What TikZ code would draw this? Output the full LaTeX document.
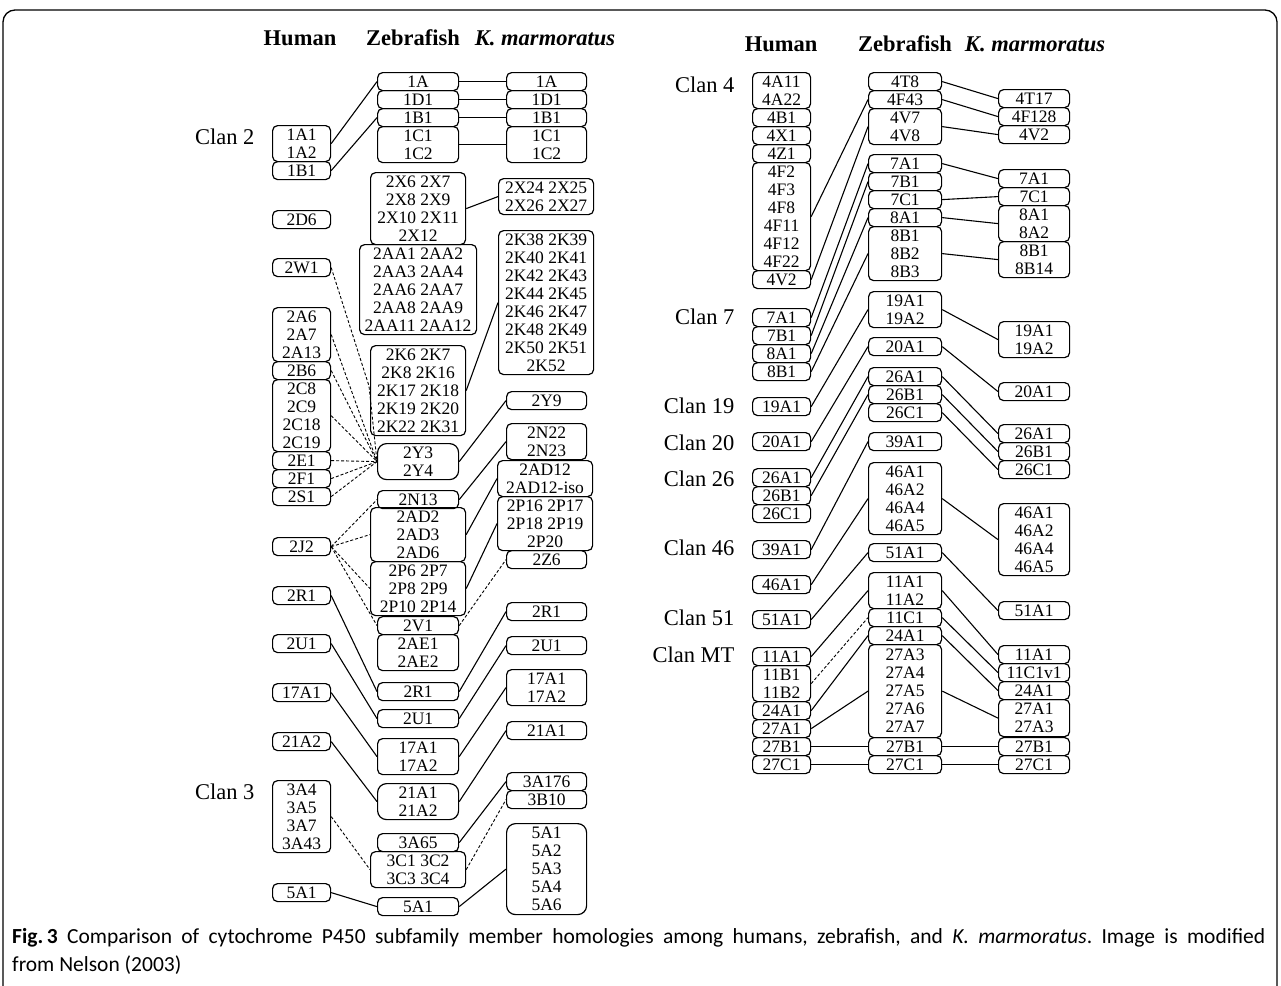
\documentclass[tikz,border=0pt]{standalone}
\usepackage{fontspec}
\setmainfont{Liberation Serif}
\newfontfamily\capfont{Carlito}
\tikzset{
 cbox/.style={draw, line width=1.2pt, rounded corners=5pt, inner sep=0pt, align=center,
   font=\fontsize{17.5}{18}\selectfont, anchor=north west},
 link/.style={line width=1.1pt},
 dlink/.style={line width=0.9pt, dash pattern=on 3pt off 2pt},
 clan/.style={font=\fontsize{22.5}{24}\selectfont, anchor=east},
 head/.style={font=\bfseries\fontsize{22.5}{24}\selectfont, anchor=base},
 capt/.style={font=\capfont\fontsize{21.5}{24}\selectfont, anchor=base west, inner sep=0pt},
 frame/.style={line width=1.3pt, rounded corners=12pt},
}
\newcommand\bx[6]{\node[cbox, minimum width=#4pt, minimum height=#5pt] (#1) at (#2,#3) {#6};}
\newcommand\lk[2]{\draw[link] (#1.east) -- (#2.west);}
\newcommand\dk[2]{\draw[dlink] (#1.east) -- (#2.west);}
\begin{document}
\begin{tikzpicture}[x=1pt,y=-1pt]
\useasboundingbox (0,0) rectangle (1281,985);
\draw[frame] (3,995) -- (3,10) -- (1277,10) -- (1277,995);

% ---------- headings ----------
\node[head] (hlH) at (300,45) {Human};
\node[head] (hlZ) at (413,45) {Zebrafish};
\node[head] (hlK) at (545,45) {\textit{K. marmoratus}};
\node[head] (hrH) at (781,51) {Human};
\node[head] (hrZ) at (905,51) {Zebrafish};
\node[head] (hrK) at (1035,51) {\textit{K. marmoratus}};

% ---------- clan labels ----------
\node[clan] (c2) at (258,137) {Clan 2};
\node[clan] (c3) at (258,792) {Clan 3};
\node[clan] (c4) at (738,85) {Clan 4};
\node[clan] (c7) at (738,317) {Clan 7};
\node[clan] (c19) at (738,406) {Clan 19};
\node[clan] (c20) at (738,443) {Clan 20};
\node[clan] (c26) at (738,479) {Clan 26};
\node[clan] (c46) at (738,548) {Clan 46};
\node[clan] (c51) at (738,618) {Clan 51};
\node[clan] (cMT) at (738,655) {Clan MT};

% ---------- left: human ----------
\bx{h1A}{272}{125}{58}{36}{1A1\\1A2}
\bx{h1B}{272}{161}{58}{18}{1B1}
\bx{h2D6}{272}{210}{58}{18}{2D6}
\bx{h2W1}{272}{258}{58}{18}{2W1}
\bx{h2A}{272}{307}{58}{54}{2A6\\2A7\\2A13}
\bx{h2B6}{272}{361}{58}{18}{2B6}
\bx{h2C}{272}{379}{58}{72}{2C8\\2C9\\2C18\\2C19}
\bx{h2E1}{272}{451}{58}{18}{2E1}
\bx{h2F1}{272}{469}{58}{18}{2F1}
\bx{h2S1}{272}{487}{58}{18}{2S1}
\bx{h2J2}{272}{537}{58}{18}{2J2}
\bx{h2R1}{272}{586}{58}{18}{2R1}
\bx{h2U1}{272}{634}{58}{18}{2U1}
\bx{h17A1}{272}{683}{58}{18}{17A1}
\bx{h21A2}{272}{732}{58}{18}{21A2}
\bx{h3A}{272}{780}{58}{72}{3A4\\3A5\\3A7\\3A43}
\bx{h5A1}{272}{883}{58}{18}{5A1}

% ---------- left: zebrafish ----------
\bx{z1A}{377}{72}{81}{18}{1A}
\bx{z1D1}{377}{90}{81}{18}{1D1}
\bx{z1B1}{377}{108}{81}{18}{1B1}
\bx{z1C}{377}{126}{81}{36}{1C1\\1C2}
\bx{z2X}{370}{172}{95}{72}{2X6 2X7\\2X8 2X9\\2X10 2X11\\2X12}
\bx{z2AA}{359}{244}{117}{90}{2AA1 2AA2\\2AA3 2AA4\\2AA6 2AA7\\2AA8 2AA9\\2AA11 2AA12}
\bx{z2K}{370}{345}{95}{90}{2K6 2K7\\2K8 2K16\\2K17 2K18\\2K19 2K20\\2K22 2K31}
\node[cbox, rounded corners=9pt, minimum width=81pt, minimum height=36pt] (z2Y) at (377,443) {2Y3\\2Y4};
\bx{z2N13}{377}{490}{81}{18}{2N13}
\bx{z2AD}{370}{507}{95}{54}{2AD2\\2AD3\\2AD6}
\bx{z2P}{370}{561}{95}{54}{2P6 2P7\\2P8 2P9\\2P10 2P14}
\bx{z2V1}{377}{616}{81}{18}{2V1}
\bx{z2AE}{377}{634}{81}{36}{2AE1\\2AE2}
\bx{z2R1}{377}{682}{81}{18}{2R1}
\bx{z2U1}{377}{709}{81}{18}{2U1}
\bx{z17A}{377}{738}{81}{36}{17A1\\17A2}
\node[cbox, rounded corners=9pt, minimum width=81pt, minimum height=36pt] (z21A) at (377,783) {21A1\\21A2};
\bx{z3A65}{377}{833}{81}{18}{3A65}
\bx{z3C}{370}{851}{95}{36}{3C1 3C2\\3C3 3C4}
\bx{z5A1}{377}{897}{81}{18}{5A1}

% ---------- left: K. marmoratus ----------
\bx{k1A}{506}{72}{80}{18}{1A}
\bx{k1D1}{506}{90}{80}{18}{1D1}
\bx{k1B1}{506}{108}{80}{18}{1B1}
\bx{k1C}{506}{126}{80}{36}{1C1\\1C2}
\bx{k2X}{498}{178}{95}{36}{2X24 2X25\\2X26 2X27}
\bx{k2K}{498}{230}{95}{144}{2K38 2K39\\2K40 2K41\\2K42 2K43\\2K44 2K45\\2K46 2K47\\2K48 2K49\\2K50 2K51\\2K52}
\bx{k2Y9}{506}{391}{80}{18}{2Y9}
\bx{k2N}{506}{423}{80}{36}{2N22\\2N23}
\bx{k2AD}{497}{460}{95}{36}{2AD12\\2AD12-iso}
\bx{k2P}{497}{496}{95}{54}{2P16 2P17\\2P18 2P19\\2P20}
\bx{k2Z6}{506}{550}{80}{18}{2Z6}
\bx{k2R1}{506}{602}{80}{18}{2R1}
\bx{k2U1}{506}{636}{80}{18}{2U1}
\bx{k17A}{506}{669}{80}{36}{17A1\\17A2}
\bx{k21A1}{506}{721}{80}{18}{21A1}
\bx{k3A176}{506}{772}{80}{18}{3A176}
\bx{k3B10}{506}{790}{80}{18}{3B10}
\node[cbox, rounded corners=9pt, minimum width=80pt, minimum height=91pt] (k5A) at (506,823) {5A1\\5A2\\5A3\\5A4\\5A6};

% ---------- right: human ----------
\bx{H4A}{752}{72}{58}{36}{4A11\\4A22}
\bx{H4B1}{752}{108}{58}{18}{4B1}
\bx{H4X1}{752}{126}{58}{18}{4X1}
\bx{H4Z1}{752}{144}{58}{18}{4Z1}
\bx{H4F}{752}{162}{58}{108}{4F2\\4F3\\4F8\\4F11\\4F12\\4F22}
\bx{H4V2}{752}{270}{58}{18}{4V2}
\bx{H7A1}{752}{308}{58}{18}{7A1}
\bx{H7B1}{752}{326}{58}{18}{7B1}
\bx{H8A1}{752}{344}{58}{18}{8A1}
\bx{H8B1}{752}{362}{58}{18}{8B1}
\bx{H19A1}{752}{397}{58}{18}{19A1}
\bx{H20A1}{752}{432}{58}{18}{20A1}
\bx{H26A1}{752}{468}{58}{18}{26A1}
\bx{H26B1}{752}{486}{58}{18}{26B1}
\bx{H26C1}{752}{504}{58}{18}{26C1}
\bx{H39A1}{752}{540}{58}{18}{39A1}
\bx{H46A1}{752}{575}{58}{18}{46A1}
\bx{H51A1}{752}{610}{58}{18}{51A1}
\bx{H11A1}{752}{647}{58}{18}{11A1}
\bx{H11B}{752}{665}{58}{36}{11B1\\11B2}
\bx{H24A1}{752}{701}{58}{18}{24A1}
\bx{H27A1}{752}{719}{58}{18}{27A1}
\bx{H27B1}{752}{737}{58}{18}{27B1}
\bx{H27C1}{752}{755}{58}{18}{27C1}

% ---------- right: zebrafish ----------
\bx{Z4T8}{868}{72}{73}{18}{4T8}
\bx{Z4F43}{868}{90}{73}{18}{4F43}
\bx{Z4V}{868}{108}{73}{36}{4V7\\4V8}
\bx{Z7A1}{868}{154}{73}{18}{7A1}
\bx{Z7B1}{868}{172}{73}{18}{7B1}
\bx{Z7C1}{868}{190}{73}{18}{7C1}
\bx{Z8A1}{868}{208}{73}{18}{8A1}
\bx{Z8B}{868}{226}{73}{54}{8B1\\8B2\\8B3}
\bx{Z19A}{868}{291}{73}{36}{19A1\\19A2}
\bx{Z20A1}{868}{337}{73}{18}{20A1}
\bx{Z26A1}{868}{367}{73}{18}{26A1}
\bx{Z26B1}{868}{385}{73}{18}{26B1}
\bx{Z26C1}{868}{403}{73}{18}{26C1}
\bx{Z39A1}{868}{432}{73}{18}{39A1}
\bx{Z46A}{868}{462}{73}{72}{46A1\\46A2\\46A4\\46A5}
\bx{Z51A1}{868}{543}{73}{18}{51A1}
\bx{Z11A}{868}{572}{73}{36}{11A1\\11A2}
\bx{Z11C1}{868}{608}{73}{18}{11C1}
\bx{Z24A1}{868}{626}{73}{18}{24A1}
\bx{Z27A}{868}{644}{73}{93}{27A3\\27A4\\27A5\\27A6\\27A7}
\bx{Z27B1}{868}{737}{73}{18}{27B1}
\bx{Z27C1}{868}{755}{73}{18}{27C1}

% ---------- right: K. marmoratus ----------
\bx{K4T17}{998}{89}{71}{18}{4T17}
\bx{K4F128}{998}{107}{71}{18}{4F128}
\bx{K4V2}{998}{125}{71}{18}{4V2}
\bx{K7A1}{998}{169}{71}{18}{7A1}
\bx{K7C1}{998}{187}{71}{18}{7C1}
\bx{K8A}{998}{205}{71}{36}{8A1\\8A2}
\bx{K8B}{998}{241}{71}{36}{8B1\\8B14}
\bx{K19A}{998}{321}{71}{36}{19A1\\19A2}
\bx{K20A1}{998}{382}{71}{18}{20A1}
\bx{K26A1}{998}{424}{71}{18}{26A1}
\bx{K26B1}{998}{442}{71}{18}{26B1}
\bx{K26C1}{998}{460}{71}{18}{26C1}
\bx{K46A}{998}{503}{71}{72}{46A1\\46A2\\46A4\\46A5}
\bx{K51A1}{998}{601}{71}{18}{51A1}
\bx{K11A1}{998}{645}{71}{18}{11A1}
\bx{K11C1v1}{998}{663}{71}{18}{11C1v1}
\bx{K24A1}{998}{681}{71}{18}{24A1}
\bx{K27A}{998}{699}{71}{37}{27A1\\27A3}
\bx{K27B1}{998}{737}{71}{18}{27B1}
\bx{K27C1}{998}{755}{71}{18}{27C1}

% ---------- left connectors ----------
\lk{h1A}{z1A} \lk{h1B}{z1B1}
\lk{z1A}{k1A} \lk{z1D1}{k1D1} \lk{z1B1}{k1B1} \lk{z1C}{k1C}
\lk{z2X}{k2X} \lk{z2K}{k2K}
\coordinate (wbend) at (369,386);
\draw[dlink] (h2W1.east) -- (wbend) -- (z2Y.west);
\dk{h2A}{z2Y} \dk{h2B6}{z2Y} \dk{h2C}{z2Y} \dk{h2E1}{z2Y} \dk{h2F1}{z2Y} \dk{h2S1}{z2Y}
\lk{z2Y}{k2Y9} \lk{z2N13}{k2N} \lk{z2AD}{k2AD} \lk{z2P}{k2P} \dk{z2V1}{k2Z6}
\dk{h2J2}{z2N13} \dk{h2J2}{z2AD} \dk{h2J2}{z2P} \dk{h2J2}{z2V1}
\lk{h2R1}{z2R1} \lk{z2R1}{k2R1} \lk{h2U1}{z2U1} \lk{z2U1}{k2U1}
\lk{h17A1}{z17A} \lk{z17A}{k17A} \lk{h21A2}{z21A} \lk{z21A}{k21A1}
\dk{h3A}{z3C} \lk{z3A65}{k3A176} \dk{z3C}{k3B10}
\lk{h5A1}{z5A1} \lk{z5A1}{k5A}

% ---------- right connectors ----------
\lk{H4F}{Z4F43} \lk{H4V2}{Z4V}
\lk{Z4T8}{K4T17} \lk{Z4F43}{K4F128} \lk{Z4V}{K4V2}
\lk{H7A1}{Z7A1} \lk{H7B1}{Z7B1} \lk{H8A1}{Z8A1} \lk{H8B1}{Z8B}
\lk{Z7A1}{K7A1} \lk{Z7C1}{K7C1} \lk{Z8A1}{K8A} \lk{Z8B}{K8B}
\lk{H19A1}{Z19A} \lk{Z19A}{K19A}
\lk{H20A1}{Z20A1} \lk{Z20A1}{K20A1}
\lk{H26A1}{Z26A1} \lk{H26B1}{Z26B1}
\lk{Z26A1}{K26A1} \lk{Z26B1}{K26B1} \lk{Z26C1}{K26C1}
\lk{H39A1}{Z39A1}
\lk{H46A1}{Z46A} \lk{Z46A}{K46A}
\lk{H51A1}{Z51A1} \lk{Z51A1}{K51A1}
\lk{H11A1}{Z11A} \dk{H11B}{Z11C1} \lk{H24A1}{Z24A1} \lk{H27A1}{Z27A}
\lk{H27B1}{Z27B1} \lk{Z27B1}{K27B1} \lk{H27C1}{Z27C1} \lk{Z27C1}{K27C1}
\lk{Z11A}{K11A1} \lk{Z11C1}{K11C1v1} \lk{Z24A1}{K24A1} \lk{Z27A}{K27A}

% ---------- caption ----------
\node[capt] (cap1) at (12,943) {\frenchspacing\makebox[1253pt][s]{\textbf{\mbox{Fig.\,3}} Comparison of cytochrome P450 subfamily member homologies among humans, zebrafish, and \textit{K. marmoratus}. Image is modified}};
\node[capt] (cap2) at (12,971) {from Nelson (2003)};
\end{tikzpicture}
\end{document}
